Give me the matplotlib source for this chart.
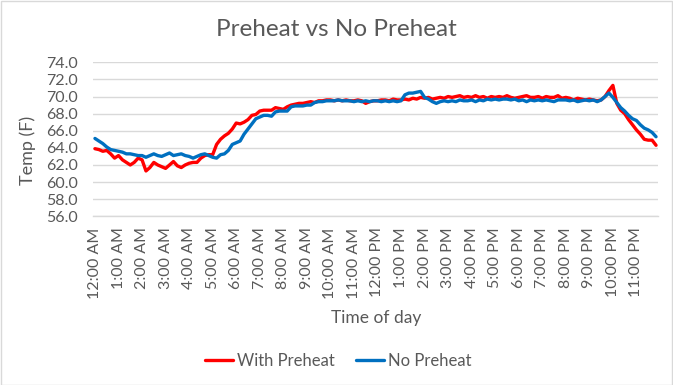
"""
Preheat vs No Preheat - room temperature over one day (10 minute samples).
"""
import matplotlib
matplotlib.use("Agg")
import matplotlib.pyplot as plt
import matplotlib.patches as mpatches
import numpy as np

plt.rcParams["font.family"] = ["Lato", "DejaVu Sans"]

TEXT = "#595959"
GRID = "#D9D9D9"

HOUR_LABELS = [
    "12:00 AM", "1:00 AM", "2:00 AM", "3:00 AM", "4:00 AM", "5:00 AM",
    "6:00 AM", "7:00 AM", "8:00 AM", "9:00 AM", "10:00 AM", "11:00 AM",
    "12:00 PM", "1:00 PM", "2:00 PM", "3:00 PM", "4:00 PM", "5:00 PM",
    "6:00 PM", "7:00 PM", "8:00 PM", "9:00 PM", "10:00 PM", "11:00 PM",
]

# one row per hour, six 10-minute readings each
with_preheat = [
    63.9, 63.8, 63.6, 63.7, 63.3, 62.8,
    63.1, 62.6, 62.3, 62.0, 62.3, 62.8,
    62.6, 61.3, 61.7, 62.3, 62.0, 61.8,
    61.6, 62.0, 62.4, 61.9, 61.7, 62.0,
    62.2, 62.3, 62.3, 62.8, 63.1, 63.2,
    63.2, 64.4, 65.0, 65.4, 65.7, 66.2,
    66.9, 66.8, 67.0, 67.3, 67.8, 67.9,
    68.3, 68.4, 68.4, 68.4, 68.7, 68.6,
    68.5, 68.8, 69.0, 69.1, 69.2, 69.2,
    69.3, 69.4, 69.3, 69.5, 69.5, 69.6,
    69.6, 69.5, 69.6, 69.5, 69.6, 69.5,
    69.5, 69.6, 69.5, 69.2, 69.4, 69.5,
    69.5, 69.6, 69.6, 69.5, 69.7, 69.6,
    69.6, 69.7, 69.6, 69.8, 69.7, 69.9,
    69.8, 69.9, 69.7, 69.8, 69.9, 69.8,
    70.0, 69.9, 70.0, 70.1, 69.9, 70.0,
    69.9, 70.1, 69.9, 70.0, 69.8, 70.0,
    69.9, 70.0, 69.9, 70.1, 69.9, 69.8,
    69.9, 70.0, 70.1, 69.9, 69.9, 70.0,
    69.8, 70.0, 69.9, 69.9, 70.1, 69.8,
    69.9, 69.8, 69.6, 69.8, 69.7, 69.6,
    69.7, 69.6, 69.5, 69.6, 70.0, 70.7,
    71.3, 69.2, 68.4, 68.0, 67.3, 66.7,
    66.1, 65.6, 65.0, 64.9, 64.9, 64.3,
]

no_preheat = [
    65.1, 64.8, 64.5, 64.1, 63.8, 63.7,
    63.6, 63.5, 63.3, 63.3, 63.2, 63.1,
    63.1, 62.9, 63.1, 63.3, 63.1, 63.0,
    63.2, 63.4, 63.1, 63.2, 63.3, 63.1,
    63.0, 62.8, 63.0, 63.2, 63.3, 63.1,
    62.9, 62.8, 63.2, 63.3, 63.7, 64.4,
    64.6, 64.8, 65.6, 66.2, 66.8, 67.4,
    67.6, 67.8, 67.8, 67.7, 68.2, 68.3,
    68.3, 68.3, 68.8, 68.9, 68.9, 68.9,
    69.0, 69.0, 69.3, 69.4, 69.4, 69.5,
    69.5, 69.5, 69.6, 69.5, 69.5, 69.5,
    69.4, 69.5, 69.4, 69.5, 69.4, 69.5,
    69.5, 69.4, 69.5, 69.4, 69.5, 69.4,
    69.5, 70.2, 70.4, 70.4, 70.5, 70.6,
    69.9, 69.7, 69.4, 69.2, 69.4, 69.5,
    69.4, 69.5, 69.4, 69.6, 69.5, 69.5,
    69.6, 69.4, 69.6, 69.5, 69.7, 69.6,
    69.7, 69.6, 69.7, 69.7, 69.6, 69.7,
    69.5, 69.6, 69.4, 69.6, 69.5, 69.6,
    69.5, 69.6, 69.5, 69.4, 69.6, 69.6,
    69.6, 69.5, 69.6, 69.4, 69.5, 69.6,
    69.5, 69.6, 69.4, 69.6, 70.0, 70.4,
    69.9, 69.3, 68.7, 68.3, 67.8, 67.4,
    67.2, 66.7, 66.3, 66.1, 65.8, 65.3,
]

SAMPLES_PER_HOUR = 6


def main() -> None:
    n = len(with_preheat)
    hours = np.arange(n) / SAMPLES_PER_HOUR

    fig = plt.figure(figsize=(6.73, 3.85), dpi=100)
    ax = fig.add_axes([93 / 673, 1 - 216.3 / 385, 565 / 673, 154 / 385])

    ax.plot(hours, with_preheat, color="#FF0000", linewidth=2.4, label="With Preheat",
            solid_joinstyle="round", solid_capstyle="round")
    ax.plot(hours, no_preheat, color="#0070C0", linewidth=2.4, label="No Preheat",
            solid_joinstyle="round", solid_capstyle="round")

    half = 0.5 / SAMPLES_PER_HOUR
    ax.set_xlim(-half, n / SAMPLES_PER_HOUR - half)
    ax.set_ylim(56, 74)
    ax.set_yticks(np.arange(56, 74.1, 2))
    ax.set_yticklabels([f"{v:.1f}" for v in np.arange(56, 74.1, 2)])
    ax.set_xticks(np.arange(len(HOUR_LABELS)))
    ax.set_xticklabels(HOUR_LABELS, rotation=90)

    ax.tick_params(axis="y", length=0, pad=11, labelsize=11.5, labelcolor=TEXT)
    ax.tick_params(axis="x", length=0, pad=8, labelsize=11.5, labelcolor=TEXT)
    ax.grid(axis="y", color=GRID, linewidth=1)
    ax.set_axisbelow(True)
    for side in ("top", "right", "left"):
        ax.spines[side].set_visible(False)
    ax.spines["bottom"].set_color(GRID)
    ax.spines["bottom"].set_linewidth(1)

    fig.text(28 / 673, 1 - 150 / 385, "Temp (F)", rotation=90, ha="center", va="center",
             fontsize=13, color=TEXT)
    fig.text(376 / 673, 1 - 318 / 385, "Time of day", ha="center", va="center",
             fontsize=12.5, color=TEXT)
    fig.text(336 / 673, 1 - 30 / 385, "Preheat vs No Preheat", ha="center", va="center",
             fontsize=17.5, color=TEXT)

    fig.legend(loc="center", bbox_to_anchor=(338 / 673, 1 - 361 / 385), ncol=2,
               frameon=False, fontsize=12, handlelength=1.7, handletextpad=0.2,
               columnspacing=1.3, labelcolor=TEXT)

    fig.patches.append(mpatches.Rectangle((0.001, 0.001), 0.997, 0.997, transform=fig.transFigure,
                                          fill=False, edgecolor=GRID, linewidth=1))

    fig.savefig("out.png", dpi=100)
    plt.close(fig)


if __name__ == "__main__":
    main()
